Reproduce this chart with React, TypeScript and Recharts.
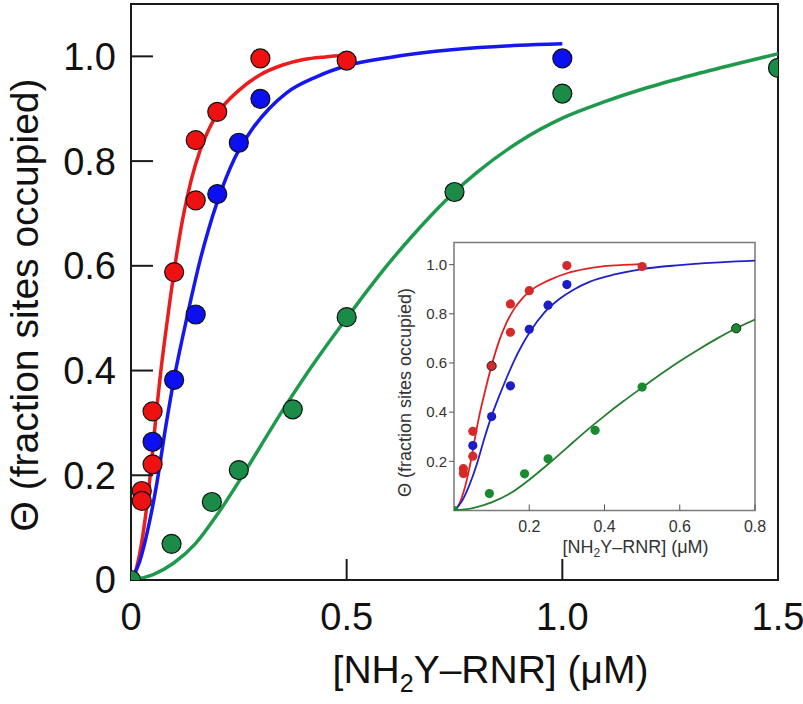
import { ComposedChart, Line, Scatter, XAxis, YAxis, ReferenceArea } from 'recharts';

const FONT = '"Liberation Sans", Arial, sans-serif';

// measured points (x in µM, y = fraction of sites occupied)
const redPoints = [
  { x: 0.025, y: 0.17 }, { x: 0.025, y: 0.151 }, { x: 0.05, y: 0.322 }, { x: 0.05, y: 0.221 },
  { x: 0.1, y: 0.588 }, { x: 0.15, y: 0.84 }, { x: 0.15, y: 0.725 }, { x: 0.2, y: 0.894 },
  { x: 0.3, y: 0.996 }, { x: 0.5, y: 0.992 },
];
const bluePoints = [
  { x: 0.05, y: 0.264 }, { x: 0.1, y: 0.382 }, { x: 0.15, y: 0.507 }, { x: 0.2, y: 0.737 },
  { x: 0.25, y: 0.835 }, { x: 0.3, y: 0.919 }, { x: 1.0, y: 0.996 },
];
const greenPoints = [
  { x: 0, y: 0 }, { x: 0.094, y: 0.069 }, { x: 0.1875, y: 0.149 }, { x: 0.25, y: 0.21 },
  { x: 0.375, y: 0.326 }, { x: 0.5, y: 0.502 }, { x: 0.75, y: 0.741 }, { x: 1.0, y: 0.929 },
  { x: 1.5, y: 0.978 },
];

// fitted curves
const redFit = [
  [0, 0], [0.01, 0.015], [0.02, 0.05], [0.03, 0.1], [0.04, 0.165], [0.05, 0.245], [0.06, 0.33],
  [0.07, 0.405], [0.08, 0.47], [0.09, 0.532], [0.1, 0.59], [0.12, 0.69], [0.14, 0.765],
  [0.16, 0.82], [0.18, 0.86], [0.2, 0.89], [0.25, 0.935], [0.3, 0.965], [0.35, 0.983],
  [0.4, 0.994], [0.45, 0.999], [0.5, 1.002],
].map(([x, y]) => ({ x, y }));
const blueFit = [
  [0, 0], [0.02, 0.035], [0.04, 0.1], [0.06, 0.185], [0.08, 0.29], [0.1, 0.385], [0.12, 0.465],
  [0.14, 0.54], [0.16, 0.61], [0.18, 0.67], [0.2, 0.722], [0.24, 0.805], [0.28, 0.86],
  [0.32, 0.9], [0.36, 0.93], [0.43, 0.961], [0.5, 0.982], [0.6, 0.998], [0.75, 1.013],
  [0.9, 1.021], [1.0, 1.024],
].map(([x, y]) => ({ x, y }));
const greenFit = [
  [0, 0], [0.05, 0.01], [0.1, 0.033], [0.15, 0.07], [0.2, 0.125], [0.25, 0.188], [0.3, 0.255],
  [0.35, 0.322], [0.4, 0.385], [0.45, 0.444], [0.5, 0.5], [0.55, 0.555], [0.6, 0.607],
  [0.65, 0.655], [0.7, 0.7], [0.75, 0.741], [0.8, 0.777], [0.9, 0.837], [1.0, 0.882],
  [1.1, 0.914], [1.2, 0.941], [1.3, 0.964], [1.4, 0.985], [1.5, 1.005],
].map(([x, y]) => ({ x, y }));

const mainXTicks = [0, 0.5, 1.0, 1.5];
const mainYTicks = [0, 0.2, 0.4, 0.6, 0.8, 1.0];
const insetXTicks = [0.2, 0.4, 0.6, 0.8];
const insetYTicks = [0.2, 0.4, 0.6, 0.8, 1.0];

const fmt = (v: number) => (v === 0 ? '0' : v.toFixed(1));

const bigDot = (fill: string) => (p: any) => (
  <circle cx={p.cx} cy={p.cy} r={9.5} fill={fill} stroke="#111" strokeWidth={1.2} />
);
// a couple of the inset markers carry a dark rim in the original
const smallDot = (fill: string, rimAt: number) => (p: any) => (
  <circle
    cx={p.cx}
    cy={p.cy}
    r={4.6}
    fill={fill}
    stroke={p.payload && p.payload.x === rimAt ? '#222' : 'none'}
    strokeWidth={1}
  />
);

const MainXTitle = ({ viewBox }: any) => (
  <text
    x={viewBox.x + viewBox.width / 2 + 36}
    y={viewBox.y + 103}
    textAnchor="middle"
    fontSize={39}
    fontFamily={FONT}
    fill="#111"
  >
    [NH<tspan dy={9} fontSize={25}>2</tspan>
    <tspan dy={-9}>Y–RNR] (μM)</tspan>
  </text>
);

const MainYTitle = ({ viewBox }: any) => (
  <text
    transform={`translate(${viewBox.x + 24}, ${viewBox.y + viewBox.height / 2 + 13}) rotate(-90)`}
    textAnchor="middle"
    dominantBaseline="central"
    fontSize={39}
    fontFamily={FONT}
    fill="#111"
  >
    Θ (fraction sites occupied)
  </text>
);

const InsetXTitle = ({ viewBox }: any) => (
  <text
    x={viewBox.x + viewBox.width / 2 + 31}
    y={viewBox.y + 42}
    textAnchor="middle"
    fontSize={18}
    fontFamily={FONT}
    fill="#333"
  >
    [NH<tspan dy={4} fontSize={12}>2</tspan>
    <tspan dy={-4}>Y–RNR] (μM)</tspan>
  </text>
);

const InsetYTitle = ({ viewBox }: any) => (
  <text
    transform={`translate(${viewBox.x + 25}, ${viewBox.y + viewBox.height / 2 + 16}) rotate(-90)`}
    textAnchor="middle"
    dominantBaseline="central"
    fontSize={18}
    fontFamily={FONT}
    fill="#333"
  >
    Θ (fraction sites occupied)
  </text>
);

const inInset = (p: { x: number }) => p.x <= 0.8;

export default function App() {
  return (
    <div style={{ position: 'absolute', left: 0, top: 0, width: 803, height: 704, background: '#fff' }}>
      <ComposedChart width={803} height={704} margin={{ top: 4, right: 25, bottom: 0, left: 0 }}>
        <XAxis
          type="number"
          dataKey="x"
          domain={[0, 1.5]}
          ticks={mainXTicks}
          tickFormatter={fmt}
          height={124}
          tickSize={-21}
          tickMargin={44}
          axisLine={false}
          tickLine={{ stroke: '#1a1a1a', strokeWidth: 2 }}
          tick={{ fill: '#111', fontSize: 38, fontFamily: FONT }}
          label={MainXTitle}
          allowDataOverflow
        />
        <YAxis
          type="number"
          dataKey="y"
          domain={[0, 1.1]}
          ticks={mainYTicks}
          tickFormatter={fmt}
          width={131}
          tickSize={-22}
          tickMargin={37}
          axisLine={false}
          tickLine={{ stroke: '#1a1a1a', strokeWidth: 2 }}
          tick={{ fill: '#111', fontSize: 38, fontFamily: FONT }}
          label={MainYTitle}
          allowDataOverflow
        />
        <ReferenceArea x1={0} x2={1.5} y1={0} y2={1.1} fill="none" stroke="#1a1a1a" strokeWidth={2} />
        <Line data={greenFit} dataKey="y" type="monotone" stroke="#1f9a4c" strokeWidth={3.5} dot={false} isAnimationActive={false} />
        <Line data={redFit} dataKey="y" type="monotone" stroke="#ea1c1c" strokeWidth={3.5} dot={false} isAnimationActive={false} />
        <Line data={blueFit} dataKey="y" type="monotone" stroke="#1616f0" strokeWidth={3.5} dot={false} isAnimationActive={false} />
        <Scatter data={redPoints} dataKey="y" shape={bigDot('#ee1111')} isAnimationActive={false} />
        <Scatter data={bluePoints} dataKey="y" shape={bigDot('#0c10f0')} isAnimationActive={false} />
        <Scatter data={greenPoints} dataKey="y" shape={bigDot('#1b8c48')} isAnimationActive={false} />
      </ComposedChart>

      <div style={{ position: 'absolute', left: 380, top: 230 }}>
        <ComposedChart width={400} height={340} margin={{ top: 12.5, right: 25, bottom: 0, left: 0 }}>
          <XAxis
            type="number"
            dataKey="x"
            domain={[0, 0.8]}
            ticks={insetXTicks}
            tickFormatter={fmt}
            height={59.5}
            tickSize={-6}
            tickMargin={16}
            axisLine={false}
            tickLine={{ stroke: '#555', strokeWidth: 1 }}
            tick={{ fill: '#333', fontSize: 16, fontFamily: FONT }}
            label={InsetXTitle}
            allowDataOverflow
          />
          <YAxis
            type="number"
            dataKey="y"
            domain={[0, 1.09]}
            ticks={insetYTicks}
            tickFormatter={fmt}
            width={74}
            tickSize={5}
            tickMargin={2}
            axisLine={false}
            tickLine={{ stroke: '#555', strokeWidth: 1 }}
            tick={{ fill: '#333', fontSize: 15, fontFamily: FONT }}
            label={InsetYTitle}
            allowDataOverflow
          />
          <ReferenceArea x1={0} x2={0.8} y1={0} y2={1.09} fill="#fff" fillOpacity={1} stroke="#7a7a7a" strokeWidth={1.5} />
          <Line data={greenFit} dataKey="y" type="monotone" stroke="#237d2d" strokeWidth={1.8} dot={false} isAnimationActive={false} />
          <Line data={redFit} dataKey="y" type="monotone" stroke="#dd2222" strokeWidth={1.8} dot={false} isAnimationActive={false} />
          <Line data={blueFit} dataKey="y" type="monotone" stroke="#2020cc" strokeWidth={1.8} dot={false} isAnimationActive={false} />
          <Scatter data={redPoints.filter(inInset)} dataKey="y" shape={smallDot('#d42a2a', 0.1)} isAnimationActive={false} />
          <Scatter data={bluePoints.filter(inInset)} dataKey="y" shape={smallDot('#1c1cc8', -1)} isAnimationActive={false} />
          <Scatter data={greenPoints.filter(inInset)} dataKey="y" shape={smallDot('#1a8a30', 0.75)} isAnimationActive={false} />
        </ComposedChart>
      </div>
    </div>
  );
}
